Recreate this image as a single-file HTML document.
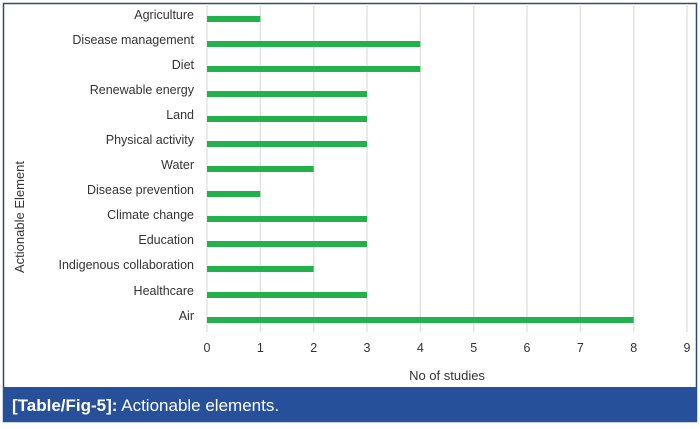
<!DOCTYPE html><html><head><style>body{margin:0;width:700px;height:424px;background:#fff;overflow:hidden}</style></head><body>
<svg width="700" height="424" xmlns="http://www.w3.org/2000/svg" font-family="Liberation Sans, sans-serif">
<rect x="3.5" y="3.5" width="693" height="418" fill="#fff" stroke="#2a4a7e" stroke-width="1.5"/>
<g stroke="#e3e3e3" stroke-width="1.5">
<line x1="260.3" y1="4" x2="260.3" y2="332"/><line x1="313.7" y1="4" x2="313.7" y2="332"/><line x1="367" y1="4" x2="367" y2="332"/><line x1="420.3" y1="4" x2="420.3" y2="332"/><line x1="473.7" y1="4" x2="473.7" y2="332"/><line x1="527" y1="4" x2="527" y2="332"/><line x1="580.3" y1="4" x2="580.3" y2="332"/><line x1="633.7" y1="4" x2="633.7" y2="332"/><line x1="687" y1="4" x2="687" y2="332"/><line x1="207" y1="4" x2="207" y2="332"/>
</g>
<g fill="#22b14c">
<rect x="207" y="16" width="53.3" height="6"/>
<rect x="207" y="41" width="213.3" height="6"/>
<rect x="207" y="66" width="213.3" height="6"/>
<rect x="207" y="91" width="160" height="6"/>
<rect x="207" y="116" width="160" height="6"/>
<rect x="207" y="141" width="160" height="6"/>
<rect x="207" y="166" width="106.7" height="6"/>
<rect x="207" y="191" width="53.3" height="6"/>
<rect x="207" y="216" width="160" height="6"/>
<rect x="207" y="241" width="160" height="6"/>
<rect x="207" y="266" width="106.7" height="6"/>
<rect x="207" y="292" width="160" height="6"/>
<rect x="207" y="317" width="426.7" height="6"/>
</g>
<g font-size="12.5" fill="#333" text-anchor="end">
<text x="194" y="19" dy="0">Agriculture</text>
<text x="194" y="44">Disease management</text>
<text x="194" y="69">Diet</text>
<text x="194" y="94">Renewable energy</text>
<text x="194" y="119">Land</text>
<text x="194" y="144">Physical activity</text>
<text x="194" y="169">Water</text>
<text x="194" y="194">Disease prevention</text>
<text x="194" y="219">Climate change</text>
<text x="194" y="244">Education</text>
<text x="194" y="269">Indigenous collaboration</text>
<text x="194" y="295">Healthcare</text>
<text x="194" y="320">Air</text>
</g>
<g font-size="12.5" fill="#333" text-anchor="middle">
<text x="207" y="352">0</text><text x="260.3" y="352">1</text><text x="313.7" y="352">2</text><text x="367" y="352">3</text><text x="420.3" y="352">4</text><text x="473.7" y="352">5</text><text x="527" y="352">6</text><text x="580.3" y="352">7</text><text x="633.7" y="352">8</text><text x="687" y="352">9</text>
<text x="447" y="380" font-size="13">No of studies</text>
<text transform="translate(24,217) rotate(-90)" font-size="13">Actionable Element</text>
</g>
<rect x="3" y="387" width="694" height="35" fill="#26509a"/>
<text x="12" y="411" font-size="17" fill="#fff"><tspan font-weight="bold">[Table/Fig-5]:</tspan> Actionable elements.</text>
</svg>
</body></html>
